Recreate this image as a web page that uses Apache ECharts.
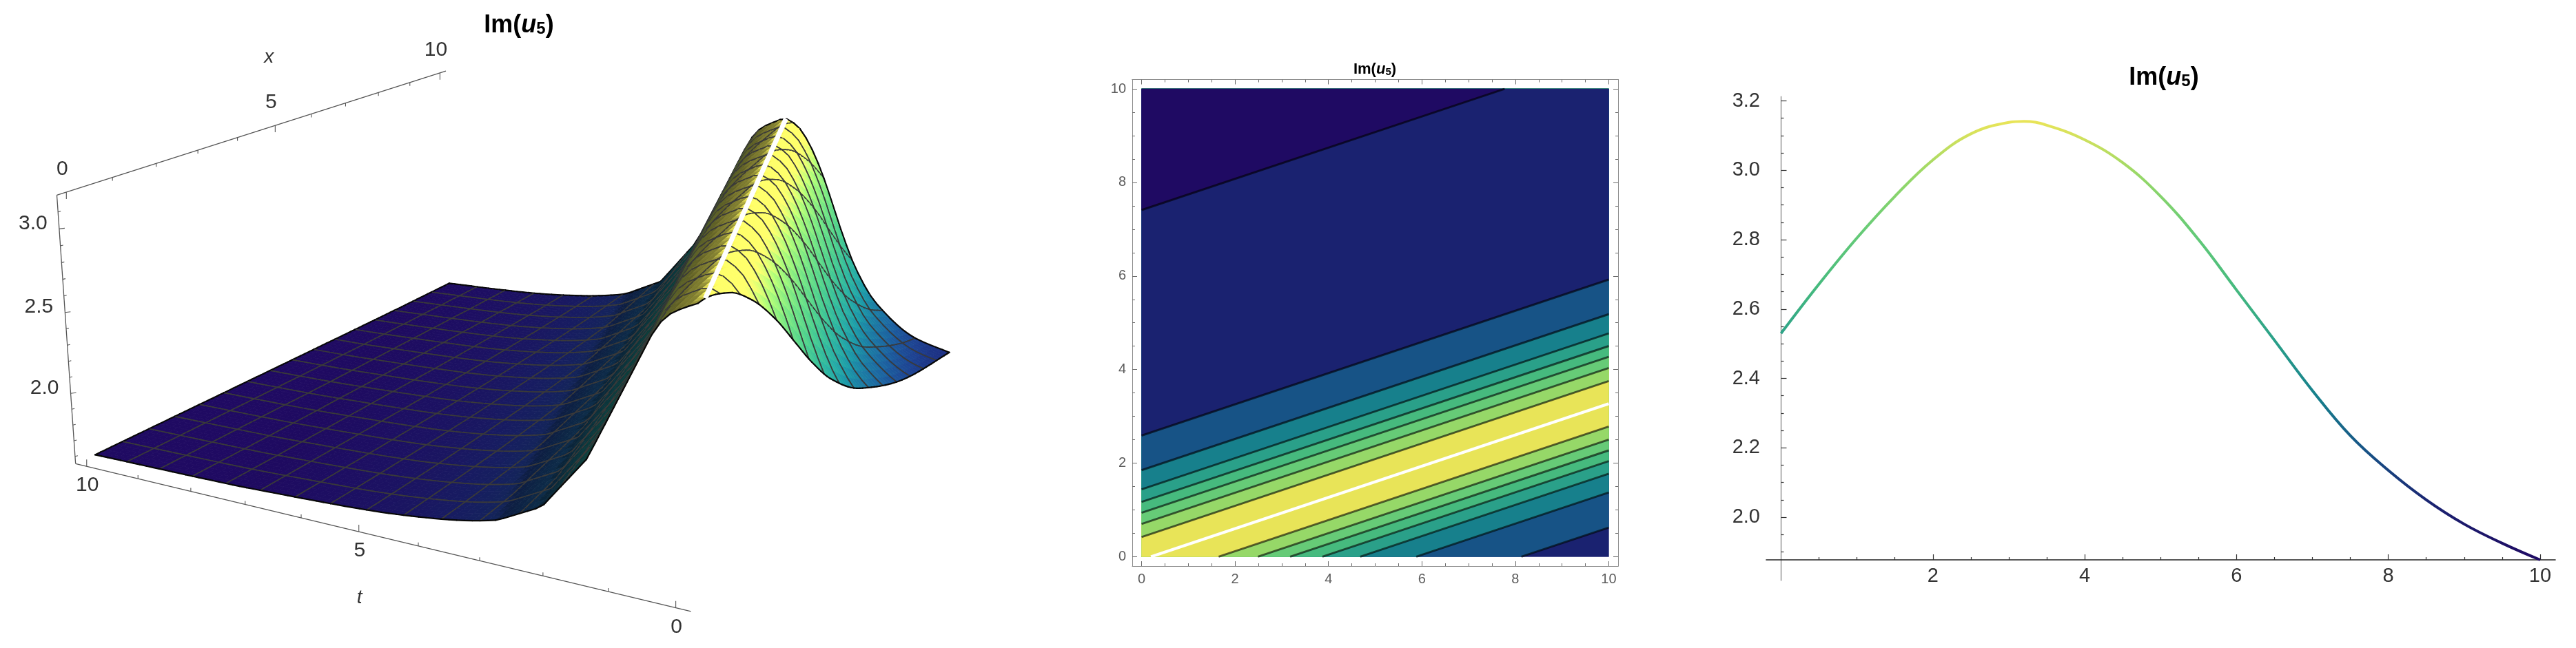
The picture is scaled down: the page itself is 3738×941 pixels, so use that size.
<!DOCTYPE html>
<html><head><meta charset="utf-8">
<script src="https://cdn.jsdelivr.net/npm/echarts@6/dist/echarts.min.js"></script>
<style>html,body{margin:0;padding:0;background:#fff}#c{width:3738px;height:941px}</style>
</head><body><div id="c"></div>
<script>
// ---------- values ----------
const titleText = '{a|Im(}{b|u}{c|5}{a|)}';
// travelling profile: value against t - x/3
const ridgeOffset = [-3.34,-2.71,-1.95,-1.56,-1.29,-1.06,-0.83,-0.55,-0.30,-0.06,0.17,0.42,0.61,1.49,2.16,2.84,3.83,5.00,6.67,7.41,10.00];
const ridgeValue  = [1.74,1.80,2.00,2.20,2.40,2.60,2.80,3.00,3.12,3.165,3.13,3.07,2.97,2.233,1.907,1.775,1.70,1.655,1.625,1.615,1.60];
// this stretch of the surface is visibly made of straight facets
const facetFrom = 0.61, facetTo = 2.84;
const ridgeLineX = [0.2,10];
const ridgeLineT = [0,3.27];
const meshLines = 15;
const tAxisTicks = [0,1,2,3,4,5,6,7,8,9,10];
const xAxisTicks = [0,1,2,3,4,5,6,7,8,9,10];
const zAxisTicks = [1.6,1.7,1.8,1.9,2.0,2.1,2.2,2.3,2.4,2.5,2.6,2.7,2.8,2.9,3.0,3.1];
const tMajorLabels = [0,5,10];
const xMajorLabels = [0,5,10];
const zMajorLabels = [2.0,2.5,3.0];
// contour plot: intercepts of the contour lines (t at x = 0, slope 1/3)
const contourIntercepts = [-2.71,-1.96,-1.56,-1.29,-1.06,-0.83,-0.55,0.42,0.70,0.94,1.17,1.44,1.85,2.59,7.41];
const bandColors = ['#1a2270','#175386','#17808c','#2aa089','#46ba7e','#66cb77','#96d868','#e8e458','#96d868','#66cb77','#46ba7e','#2aa089','#17808c','#175386','#1a2270','#1f0a63'];
const contourMajor = [0,2,4,6,8,10];
const contourMinor = [0.5,1,1.5,2.5,3,3.5,4.5,5,5.5,6.5,7,7.5,8.5,9,9.5];
// section: value against t
const sectionT = [0,0.5,1,1.5,2,2.5,3,3.2,3.5,4,4.5,5,5.5,6,6.5,7,7.5,8,8.5,9,9.5,10];
const sectionV = [2.53,2.672,2.805,2.925,3.03,3.105,3.138,3.141,3.13,3.088,3.022,2.925,2.80,2.655,2.51,2.365,2.235,2.135,2.05,1.98,1.925,1.877];
const sectionXMajor = [2,4,6,8,10];
const sectionXMinor = [0.5,1,1.5,2.5,3,3.5,4.5,5,5.5,6.5,7,7.5,8.5,9,9.5];
const sectionYMajor = [2.0,2.2,2.4,2.6,2.8,3.0,3.2];
const sectionYMinor = [1.9,1.95,2.05,2.1,2.15,2.25,2.3,2.35,2.45,2.5,2.55,2.65,2.7,2.75,2.85,2.9,2.95,3.05,3.1,3.15];
const surfaceRampV = [1.62,1.72,1.90,2.10,2.30,2.50,2.70,2.90,3.10,3.20];
const surfaceRampC = ['#1f0a63','#1a2270','#175386','#17808c','#2aa089','#46ba7e','#66cb77','#96d868','#e8e458','#f0ea58'];
const sectionColors = ['#1f0a63','#1a2270','#175386','#17808c','#2aa089','#46ba7e','#66cb77','#96d868','#e8e458'];

// ---------- 3D view ----------
const FONT='"Liberation Sans",Arial,sans-serif';
const zFloor=1.553, zSpan=1.645;
function project(t,x,z){
  const s=10-t, Z=(z-zFloor)/zSpan;
  const D=1-0.01405*s+0.02548*x-0.0503*Z;
  const Nx=145+74.5*s+71*x-32.7*Z;
  const Ny=1118+13.4*s-23*x-672.3*Z;
  return [Nx/D/1.0453,Ny/D/1.6663];
}
// monotone cubic through the read profile, for the surface table
const slopes=(function(){
  const n=ridgeOffset.length,m=[],d=[];
  for(let i=0;i<n-1;i++)d.push((ridgeValue[i+1]-ridgeValue[i])/(ridgeOffset[i+1]-ridgeOffset[i]));
  m[0]=d[0];m[n-1]=d[n-2];
  for(let i=1;i<n-1;i++)m[i]=d[i-1]*d[i]<=0?0:2*d[i-1]*d[i]/(d[i-1]+d[i]);
  return m;
})();
function profile(q){
  let i=0;while(i<ridgeOffset.length-2&&q>ridgeOffset[i+1])i++;
  const h=ridgeOffset[i+1]-ridgeOffset[i],u=(q-ridgeOffset[i])/h;
  if(q>=facetFrom&&q<=facetTo)return ridgeValue[i]+(ridgeValue[i+1]-ridgeValue[i])*u;
  const a=2*u*u*u-3*u*u+1,b=u*u*u-2*u*u+u,c=-2*u*u*u+3*u*u,e=u*u*u-u*u;
  return a*ridgeValue[i]+b*h*slopes[i]+c*ridgeValue[i+1]+e*h*slopes[i+1];
}
const SUB=5,N=(meshLines+1)*SUB;
const gridT=[],gridX=[];
for(let i=0;i<=N;i++){gridT.push(i*10/N);gridX.push(i*10/N);}
const surfaceZ=gridT.map(t=>gridX.map(x=>profile(t-x/3)));
const cells=[];
for(let i=0;i<N;i++)for(let j=0;j<N;j++){
  const t=(gridT[i]+gridT[i+1])/2,x=(gridX[j]+gridX[j+1])/2,z=surfaceZ[i][j];
  const depth=1-0.01405*(10-t)+0.02548*x-0.0503*(z-zFloor)/zSpan;
  cells.push([i,j,depth]);
}
cells.sort((a,b)=>b[2]-a[2]);
function hex(c){return [parseInt(c.slice(1,3),16),parseInt(c.slice(3,5),16),parseInt(c.slice(5,7),16)];}
function ramp(v){
  let k=0;while(k<surfaceRampV.length-2&&v>surfaceRampV[k+1])k++;
  const u=Math.max(0,Math.min(1,(v-surfaceRampV[k])/(surfaceRampV[k+1]-surfaceRampV[k])));
  const a=hex(surfaceRampC[k]),b=hex(surfaceRampC[k+1]);
  return [0,1,2].map(q=>a[q]+(b[q]-a[q])*u);
}
function shade(i,j){
  const z=(surfaceZ[i][j]+surfaceZ[i+1][j]+surfaceZ[i][j+1]+surfaceZ[i+1][j+1])/4;
  const rgb=ramp(z);
  const dzT=((surfaceZ[i+1][j]+surfaceZ[i+1][j+1])-(surfaceZ[i][j]+surfaceZ[i][j+1]))/2/(gridT[i+1]-gridT[i]);
  const dzX=((surfaceZ[i][j+1]+surfaceZ[i+1][j+1])-(surfaceZ[i][j]+surfaceZ[i+1][j]))/2/(gridX[j+1]-gridX[j]);
  const k=10/zSpan*0.4;
  let nx=-dzT*k,ny=-dzX*k,nz=1;const l=Math.hypot(nx,ny,nz);nx/=l;ny/=l;nz/=l;
  const lit=(nx*-0.6+ny*0.15+nz*0.78)/0.78;
  const f=Math.max(0.42,Math.min(1.2,lit));
  return 'rgb('+rgb.map(v=>Math.min(255,Math.round(v*f))).join(',')+')';
}
function surfaceItem(params,api){
  const i=api.value(0),j=api.value(1);
  const P=(a,b)=>api.coord(project(gridT[a],gridX[b],surfaceZ[a][b]));
  const p00=P(i,j),p10=P(i+1,j),p11=P(i+1,j+1),p01=P(i,j+1);
  const col=shade(i,j);
  const kids=[{type:'polygon',shape:{points:[p00,p10,p11,p01]},style:{fill:col,stroke:col,lineWidth:0.8},silent:true}];
  const line=(a,b,c,w)=>kids.push({type:'line',shape:{x1:a[0],y1:a[1],x2:b[0],y2:b[1]},style:{stroke:c,lineWidth:w,lineCap:'round'},silent:true});
  const MC='#3a3a3a',MW=1.7,BC='#080808',BW=2.2;
  if(i%SUB===0&&i>0)line(p00,p01,MC,MW);
  if((i+1)%SUB===0&&i+1<N)line(p10,p11,MC,MW);
  if(j%SUB===0&&j>0)line(p00,p10,MC,MW);
  if((j+1)%SUB===0&&j+1<N)line(p01,p11,MC,MW);
  if(i===0)line(p00,p01,BC,BW);
  if(i===N-1)line(p10,p11,BC,BW);
  if(j===0)line(p00,p10,BC,BW);
  if(j===N-1)line(p01,p11,BC,BW);
  return {type:'group',children:kids};
}
const AXC='#555555';
const boxS=-0.22,boxX=-0.2,zTop=zFloor+zSpan;
const lab=(text,p,size,style)=>({type:'text',style:{text:String(text),x:p[0],y:p[1],fill:'#333333',fontSize:size,fontFamily:FONT,fontStyle:style||'normal',align:'center',verticalAlign:'middle'},silent:true});
function boxItem(params,api){
  const a=api.coord(project(10-boxS,boxX,zFloor)),b=api.coord(project(10-boxS,boxX,zTop));
  const c=api.coord(project(10-boxS,10.2,zTop)),d=api.coord(project(-0.22,boxX,zFloor));
  const seg=(p,q)=>({type:'line',shape:{x1:p[0],y1:p[1],x2:q[0],y2:q[1]},style:{stroke:AXC,lineWidth:1.3},silent:true});
  const tm=api.coord(project(5,boxX,zFloor)),xm=api.coord(project(10-boxS,5,zTop));
  return {type:'group',children:[seg(a,b),seg(b,c),seg(a,d),
    lab('t',[tm[0]+1,tm[1]+96],28,'italic'),lab('x',[xm[0]-9,xm[1]-99],28,'italic')]};
}
const tickLine=(p,q)=>({type:'line',shape:{x1:p[0],y1:p[1],x2:q[0],y2:q[1]},style:{stroke:AXC,lineWidth:1.1},silent:true});
function tTickItem(params,api){
  const t=api.value(0),p=api.coord(project(t,boxX,zFloor)),maj=tMajorLabels.includes(t);
  const kids=[tickLine(p,[p[0],p[1]-(maj?10:5)])];
  if(maj)kids.push(lab(t,[p[0]+1,p[1]+28],30));
  return {type:'group',children:kids};
}
function xTickItem(params,api){
  const x=api.value(0),p=api.coord(project(10-boxS,x,zTop)),maj=xMajorLabels.includes(x);
  const kids=[tickLine(p,[p[0],p[1]+(maj?10:5)])];
  if(maj)kids.push(lab(x,[p[0]-6,p[1]-33],30));
  return {type:'group',children:kids};
}
function zTickItem(params,api){
  const z=api.value(0),p=api.coord(project(10-boxS,boxX,z)),maj=zMajorLabels.includes(z);
  const kids=[tickLine(p,[p[0]+(maj?8:4),p[1]-1])];
  if(maj)kids.push(lab(z.toFixed(1),[p[0]-38,p[1]-8],30));
  return {type:'group',children:kids};
}
function whiteItem(params,api){
  const pts=ridgeLineX.map((x,k)=>api.coord(project(ridgeLineT[k],x,profile(ridgeLineT[k]-x/3))));
  return {type:'line',shape:{x1:pts[0][0],y1:pts[0][1],x2:pts[1][0],y2:pts[1][1]},style:{stroke:'#ffffff',lineWidth:7},silent:true};
}

// ---------- contour plot ----------
function clipAbove(c){ // square part with t >= x/3 + c, as [x,t]
  const sq=[[0,0],[10,0],[10,10],[0,10]],out=[];
  const g=p=>p[1]-p[0]/3-c;
  for(let i=0;i<4;i++){
    const a=sq[i],b=sq[(i+1)%4],ga=g(a),gb=g(b);
    if(ga>=0)out.push(a);
    if(ga*gb<0){const u=ga/(ga-gb);out.push([a[0]+(b[0]-a[0])*u,a[1]+(b[1]-a[1])*u]);}
  }
  return out;
}
function contourEnds(c){
  const e=[];
  const add=(x,t)=>{if(x>=0&&x<=10&&t>=0&&t<=10)e.push([x,t]);};
  add(0,c);add(10,c+10/3);add((0-c)*3,0);add((10-c)*3,10);
  return e.slice(0,2);
}
function bandItem(params,api){
  const k=api.value(0);
  const poly=k===0?[[0,0],[10,0],[10,10],[0,10]]:clipAbove(contourIntercepts[k-1]);
  return {type:'polygon',shape:{points:poly.map(p=>api.coord(p))},style:{fill:bandColors[k],stroke:bandColors[k],lineWidth:0.5},silent:true};
}
function contourLineItem(params,api){
  const e=contourEnds(api.value(0)).map(p=>api.coord(p));
  return {type:'line',shape:{x1:e[0][0],y1:e[0][1],x2:e[1][0],y2:e[1][1]},style:{stroke:'rgba(0,0,0,0.6)',lineWidth:3},silent:true};
}
function contourWhite(params,api){
  const a=api.coord([ridgeLineT[0]+0.2,ridgeLineT[0]]),b=api.coord([10,ridgeLineT[1]]);
  return {type:'line',shape:{x1:a[0],y1:a[1],x2:b[0],y2:b[1]},style:{stroke:'#ffffff',lineWidth:4.2},silent:true};
}

// ---------- axes ----------
const hiddenX=(g,mn,mx)=>({type:'value',gridIndex:g,min:mn,max:mx,show:false});
const hiddenY=(g,mn,mx,inv)=>({type:'value',gridIndex:g,min:mn,max:mx,inverse:!!inv,show:false});
const GRAY='#6a6a6a';
function cAxis(kind,pos,vals,len,labels){
  return {type:'value',gridIndex:1,min:-0.2,max:10.2,position:pos,splitLine:{show:false},
    axisLine:{show:!!labels||pos==='top'||pos==='right',onZero:false,lineStyle:{color:'#8a8a8a',width:1}},
    axisTick:{show:true,inside:true,length:len,customValues:vals,lineStyle:{color:GRAY,width:1}},
    axisLabel:labels?{show:true,customValues:vals,color:'#5c5c5c',fontSize:20,fontFamily:FONT,margin:9,formatter:v=>String(v)}:{show:false}};
}
const secLabel=(fmt,m)=>({show:true,color:'#333333',fontSize:29,fontFamily:FONT,margin:m,formatter:fmt});
const xAxes=[
  hiddenX(0,0,1500),
  cAxis('x','bottom',contourMajor,7,true),cAxis('x','bottom',contourMinor,4,false),
  cAxis('x','top',contourMajor,7,false),cAxis('x','top',contourMinor,4,false),
  {type:'value',gridIndex:2,min:-0.195,max:10.2,position:'bottom',splitLine:{show:false},
   axisLine:{onZero:false,lineStyle:{color:'#222',width:1.6}},
   axisTick:{inside:true,length:8,customValues:sectionXMajor,lineStyle:{color:'#333',width:1.2}},
   axisLabel:Object.assign(secLabel(v=>String(v),9),{customValues:sectionXMajor})},
  {type:'value',gridIndex:2,min:-0.195,max:10.2,position:'bottom',splitLine:{show:false},
   axisLine:{show:false,onZero:false},
   axisTick:{inside:true,length:4,customValues:sectionXMinor,lineStyle:{color:'#333',width:1.2}},axisLabel:{show:false}},
  hiddenX(3,0,1)
];
const yAxes=[
  hiddenY(0,0,941,true),
  cAxis('y','left',contourMajor,7,true),cAxis('y','left',contourMinor,4,false),
  cAxis('y','right',contourMajor,7,false),cAxis('y','right',contourMinor,4,false),
  {type:'value',gridIndex:2,min:1.877,max:3.213,position:'left',splitLine:{show:false},
   axisLine:{onZero:true,lineStyle:{color:'#777',width:1.2}},
   axisTick:{inside:true,length:8,customValues:sectionYMajor,lineStyle:{color:'#333',width:1.2}},
   axisLabel:Object.assign(secLabel(v=>v.toFixed(1),9),{customValues:sectionYMajor})},
  {type:'value',gridIndex:2,min:1.877,max:3.213,position:'left',splitLine:{show:false},
   axisLine:{show:false,onZero:true},
   axisTick:{inside:true,length:4,customValues:sectionYMinor,lineStyle:{color:'#333',width:1.2}},axisLabel:{show:false}},
  {type:'value',gridIndex:3,min:0,max:1,position:'left',splitLine:{show:false},
   axisLine:{onZero:false,lineStyle:{color:'#777',width:1.2}},axisTick:{show:false},axisLabel:{show:false}}
];
const richT=(s)=>({a:{fontSize:s,fontWeight:'bold',fontFamily:FONT,color:'#000'},
  b:{fontSize:s,fontWeight:'bold',fontStyle:'italic',fontFamily:FONT,color:'#000'},
  c:{fontSize:Math.round(s*0.66),fontWeight:'bold',fontFamily:FONT,color:'#000',padding:[Math.round(s*0.3),0,0,0]}});
const mkTitle=(cx,top,s)=>({text:titleText,left:cx,top:top,textAlign:'center',padding:0,textStyle:{rich:richT(s)}});
const oneRow=[[0]];
const custom=(name,render,data,xi,yi)=>({name,type:'custom',renderItem:render,data,xAxisIndex:xi,yAxisIndex:yi,coordinateSystem:'cartesian2d',clip:false,silent:true,animation:false,progressive:0,encode:{x:0,y:0}});

const chart=echarts.init(document.getElementById('c'),null,{renderer:'canvas'});
chart.setOption({
  animation:false,backgroundColor:'#ffffff',
  title:[mkTitle(753,19,36),mkTitle(1995,90,22),mkTitle(3140,95,36)],
  grid:[
    {left:0,top:0,width:1500,height:941},
    {left:1643,top:115.5,width:705,height:706.5},
    {left:2563,top:140,width:1145,height:673},
    {left:2584,top:813,width:1,height:30}
  ],
  xAxis:xAxes,yAxis:yAxes,
  visualMap:[{type:'continuous',show:false,seriesIndex:8,dimension:1,min:1.877,max:3.14,inRange:{color:sectionColors}}],
  series:[
    custom('frame',boxItem,oneRow,0,0),
    custom('t ticks',tTickItem,tAxisTicks.map(v=>[v]),0,0),
    custom('x ticks',xTickItem,xAxisTicks.map(v=>[v]),0,0),
    custom('z ticks',zTickItem,zAxisTicks.map(v=>[v]),0,0),
    custom('surface',surfaceItem,cells,0,0),
    custom('ridge',whiteItem,oneRow,0,0),
    custom('bands',bandItem,bandColors.map((c,k)=>[k]),1,1),
    custom('contours',contourLineItem,contourIntercepts.map(v=>[v]),1,1),
    {name:'section',type:'line',xAxisIndex:5,yAxisIndex:5,data:sectionT.map((t,k)=>[t,sectionV[k]]),smooth:0.4,showSymbol:false,lineStyle:{width:4},clip:false,silent:true},
    custom('white',contourWhite,oneRow,1,1)
  ]
});
</script></body></html>
